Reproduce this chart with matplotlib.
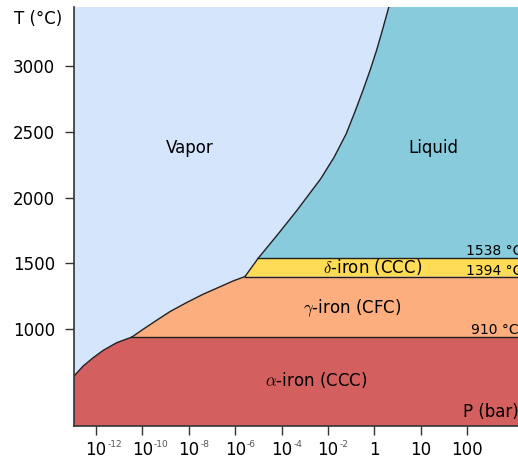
import numpy as np
import matplotlib.pyplot as plt

# pressure ticks are evenly spaced (schematic axis), one slot per label
p_base = ['10', '10', '10', '10', '10', '10', '1', '10', '100']
p_exp = ['-12', '-10', '-8', '-6', '-4', '-2', '', '', '']
p_ticks = list(range(len(p_base)))
t_ticks = [1000, 1500, 2000, 2500, 3000]

# transition temperatures (as drawn)
T_liquid = 1540
T_delta = 1399
T_gamma = 937
T_min, T_max = 260, 3453
x_min, x_max = -0.474, 10.86

# phase boundaries (x = tick slot, y = T in degC)
alpha_vap_x = [-0.474, -0.274, -0.058, 0.157, 0.446, 0.769]
alpha_vap_T = [641, 718, 781, 837, 895, 937]
gamma_vap_x = [0.769, 1.019, 1.308, 1.595, 1.955, 2.313, 2.672, 2.959, 3.211]
gamma_vap_T = [937, 998, 1066, 1132, 1201, 1265, 1321, 1366, 1399]
delta_vap_x = [3.211, 3.498]
delta_vap_T = [1399, 1540]
liq_vap_x = [3.498, 3.894, 4.325, 4.84, 5.13, 5.39, 5.59, 5.765,
             5.905, 6.045, 6.15, 6.25, 6.31]
liq_vap_T = [1540, 1710, 1901, 2143, 2308, 2486, 2664, 2830,
             2970, 3122, 3250, 3377, 3453]

c_vapor = '#d5e5fc'
c_liquid = '#87cbdc'
c_delta = '#fedc56'
c_gamma = '#fdae7e'
c_alpha = '#d35f5f'

fig = plt.figure(figsize=(5.18, 4.61), dpi=100)
ax = fig.add_axes([74/518, 35/461, (600-74)/518, 419/461])
ax.set_facecolor(c_vapor)

# phase regions
ax.fill(alpha_vap_x + [x_max, x_max, x_min], alpha_vap_T + [T_gamma, T_min, T_min],
        color=c_alpha, lw=0)
ax.fill(gamma_vap_x + [x_max, x_max], gamma_vap_T + [T_delta, T_gamma], color=c_gamma, lw=0)
ax.fill(delta_vap_x + [x_max, x_max], delta_vap_T + [T_liquid, T_delta], color=c_delta, lw=0)
ax.fill(liq_vap_x + [x_max, x_max], liq_vap_T + [T_max, T_liquid], color=c_liquid, lw=0)

# boundary lines
lk = dict(color='#222222', lw=1.0, solid_joinstyle='round')
ax.plot(alpha_vap_x, alpha_vap_T, **lk)
ax.plot(gamma_vap_x, gamma_vap_T, **lk)
ax.plot(delta_vap_x, delta_vap_T, **lk)
ax.plot(liq_vap_x, liq_vap_T, **lk)
ax.plot([gamma_vap_x[0], x_max], [T_gamma, T_gamma], **lk)
ax.plot([gamma_vap_x[-1], x_max], [T_delta, T_delta], **lk)
ax.plot([delta_vap_x[-1], x_max], [T_liquid, T_liquid], **lk)

# region labels
ax.text(2.03, 2382, 'Vapor', fontsize=12, ha='center', va='center')
ax.text(7.28, 2382, 'Liquid', fontsize=12, ha='center', va='center')
ax.text(5.97, 1470, r'$\delta$-iron (CCC)', fontsize=12, ha='center', va='center',
        math_fontfamily='cm')
ax.text(5.52, 1160, r'$\gamma$-iron (CFC)', fontsize=12, ha='center', va='center',
        math_fontfamily='cm')
ax.text(4.74, 611, r'$\alpha$-iron (CCC)', fontsize=12, ha='center', va='center',
        math_fontfamily='cm')

# transition temperatures
ax.text(7.97, 1595, '1538 °C', fontsize=10, ha='left', va='center')
ax.text(7.97, 1443, '1394 °C', fontsize=10, ha='left', va='center')
ax.text(8.08, 992, '910 °C', fontsize=10, ha='left', va='center')
ax.text(7.91, 366, 'P (bar)', fontsize=12, ha='left', va='center')
fig.text(14/518, 1 - 19/461, 'T (°C)', fontsize=12, ha='left', va='center')

ax.set_xlim(x_min, x_max)
ax.set_ylim(T_min, T_max)
ax.set_xticks(p_ticks)
ax.set_xticklabels(p_base, fontsize=12)
for t, e in zip(p_ticks, p_exp):
    if e:
        ax.annotate(e, xy=(t, 0), xycoords=('data', 'axes fraction'),
                    xytext=(8.3, -10), textcoords='offset points',
                    fontsize=6.5, color='#555555', ha='left', va='top')
ax.set_yticks(t_ticks)
ax.set_yticklabels([str(t) for t in t_ticks], fontsize=12)
ax.tick_params(axis='both', direction='out', length=6.5, width=1, color='#333333')
ax.tick_params(axis='y', pad=7)
ax.tick_params(axis='x', pad=4)
for s in ['top', 'right']:
    ax.spines[s].set_visible(False)
for s in ['left', 'bottom']:
    ax.spines[s].set_color('#333333')
    ax.spines[s].set_linewidth(1.2)

fig.savefig('out.png', dpi=100)
